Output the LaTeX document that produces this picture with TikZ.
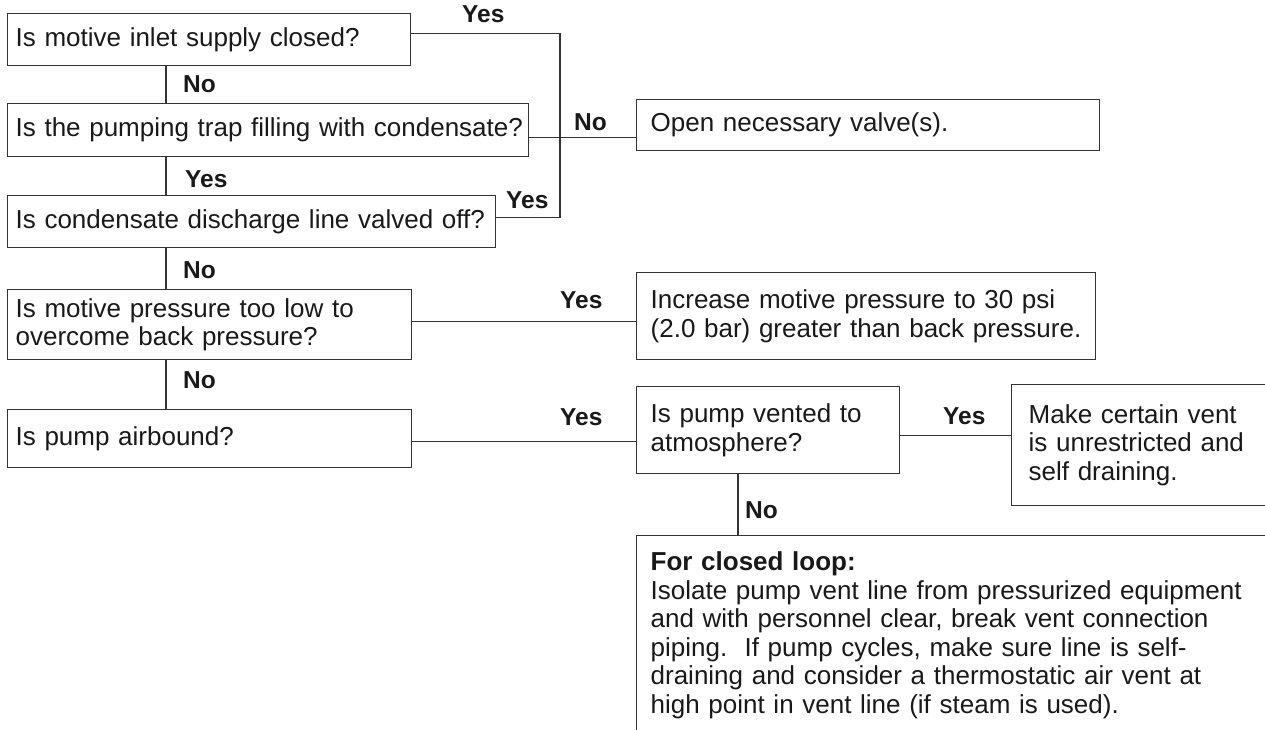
\documentclass[tikz,border=0pt]{standalone}
\usepackage{fontspec}
\setmainfont{Liberation Sans}
\tikzset{
   qbox/.style={draw=black!80, line width=1.3pt, rectangle, anchor=north west,
                inner xsep=8pt, inner ysep=0pt, align=left, text=black!90,
                font=\fontsize{26}{28.5}\selectfont},
   abox/.style={qbox, inner xsep=14pt},
   lbl/.style={anchor=base west, inner sep=0pt, text=black!90,
               font=\fontsize{24.5}{28.5}\selectfont\bfseries},
   link/.style={draw=black!80, line width=1.3pt}
}
\begin{document}
\begin{tikzpicture}[x=1pt,y=-1pt]
  \useasboundingbox (0,0) rectangle (1265,730);
  \clip (0,0) rectangle (1265,730);
  \node (q1) [qbox, text width=387pt, minimum height=52pt] at (7,13) {Is motive inlet supply closed?};
  \node (q2) [qbox, text width=505pt, minimum height=53pt] at (7,103) {\mbox{Is the pumping trap filling with condensate?}};
  \node (q3) [qbox, text width=472pt, minimum height=52pt] at (7,195) {Is condensate discharge line valved off?};
  \node (q4) [qbox, text width=388pt, minimum height=70pt] at (7,289) {Is motive pressure too low to\\overcome back pressure?};
  \node (q5) [qbox, text width=388pt, minimum height=58pt] at (7,409) {Is pump airbound?};
  \node (a1) [abox, text width=435pt, minimum height=51pt] at (636,99) {Open necessary valve(s).};
  \node (a2) [abox, text width=431pt, minimum height=87pt] at (636,272) {Increase motive pressure to 30 psi\\(2.0 bar) greater than back pressure.};
  \node (q6) [abox, text width=235pt, minimum height=87pt] at (636,386) {Is pump vented to\\atmosphere?};
  \node (a3) [abox, inner xsep=17pt, text width=266pt, minimum height=121pt] at (1011,384) {Make certain vent\\is unrestricted and\\self draining.};
  \node (a4) [abox, text width=672pt, minimum height=199pt] at (636,535) {\textbf{For closed loop:}\\Isolate pump vent line from pressurized equipment\\and with personnel clear, break vent connection\\piping.\ \ If pump cycles, make sure line is self-\\draining and consider a thermostatic air vent at\\high point in vent line (if steam is used).};

  \coordinate (trunk) at (166,0);
  \coordinate (bus) at (560,0);
  \foreach \a/\b in {q1/q2,q2/q3,q3/q4,q4/q5}
    \draw[link] (\a.south -| trunk) -- (\b.north -| trunk);
  \draw[link] ([yshift=6pt]q1.east) -| ([yshift=4pt]q3.east -| bus) -- ([yshift=4pt]q3.east);
  \draw[link] ([yshift=-7.5pt]q2.east) -- ([yshift=-7.5pt]q2.east -| a1.west);
  \draw[link] ([yshift=3pt]q4.east) -- ([yshift=3pt]q4.east -| a2.west);
  \draw[link] ([yshift=-3pt]q5.east) -- ([yshift=-3pt]q5.east -| q6.west);
  \draw[link] ([yshift=-5.5pt]q6.east) -- ([yshift=-5.5pt]q6.east -| a3.west);
  \draw[link] (q6.south -| 738,0) -- (a4.north -| 738,0);

  \node (yes1) [lbl] at (462,23) {Yes};
  \node (no1) [lbl] at (183,93) {No};
  \node (no2) [lbl] at (574,131) {No};
  \node (yes2) [lbl] at (185,187) {Yes};
  \node (yes3) [lbl] at (506,208) {Yes};
  \node (no3) [lbl] at (183,278) {No};
  \node (yes4) [lbl] at (560,308) {Yes};
  \node (no4) [lbl] at (183,388) {No};
  \node (yes5) [lbl] at (560,425) {Yes};
  \node (yes6) [lbl] at (943,424) {Yes};
  \node (no5) [lbl] at (745,518) {No};
\end{tikzpicture}
\end{document}
